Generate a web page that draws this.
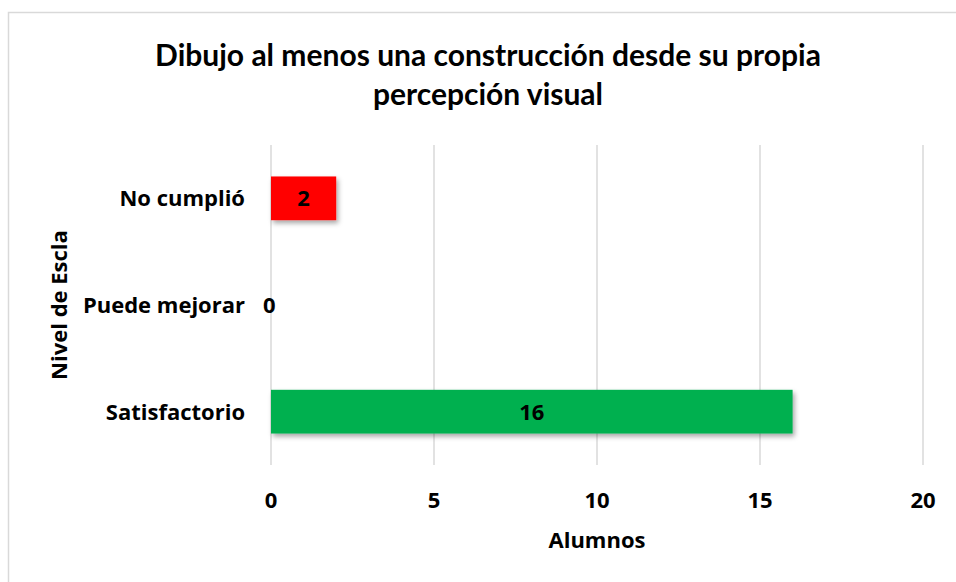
<!DOCTYPE html>
<html>
<head>
<meta charset="utf-8">
<script src="https://cdn.jsdelivr.net/npm/d3@7"></script>
<style>
  body { margin: 0; background: #fff; }
  svg { display: block; font-family: "Open Sans", sans-serif; }
</style>
</head>
<body>
<div id="chart"></div>
<script>
const categories = ["No cumplió", "Puede mejorar", "Satisfactorio"]
const values = [2, 0, 16]
const barColors = ["#ff0000", "#ffc000", "#00b050"]
const xTicks = [0, 5, 10, 15, 20]

const titleLines = ["Dibujo al menos una construcción desde su propia", "percepción visual"]

const width = 956
const height = 582
const margin = { top: 145, right: 33, bottom: 117, left: 271 }

const svg = d3
  .select("#chart")
  .append("svg")
  .attr("width", width)
  .attr("height", height)

// drop shadow like the office chart
const defs = svg.append("defs")
const shadow = defs
  .append("filter")
  .attr("id", "shadow")
  .attr("x", "-10%")
  .attr("y", "-20%")
  .attr("width", "130%")
  .attr("height", "160%")
shadow
  .append("feDropShadow")
  .attr("dx", 2)
  .attr("dy", 3)
  .attr("stdDeviation", 2.5)
  .attr("flood-color", "#000")
  .attr("flood-opacity", 0.35)

// chart border
svg
  .append("rect")
  .attr("x", 8.5)
  .attr("y", 12.5)
  .attr("width", 960)
  .attr("height", 600)
  .attr("fill", "none")
  .attr("stroke", "#d9d9d9")
  .attr("stroke-width", 1.5)

const x = d3
  .scaleLinear()
  .domain([0, 20])
  .range([margin.left, width - margin.right])

const y = d3
  .scaleBand()
  .domain(categories)
  .range([margin.top, height - margin.bottom])
  .paddingInner(0.59)
  .paddingOuter(0.295)

// gridlines
svg
  .append("g")
  .selectAll("line")
  .data(xTicks)
  .enter()
  .append("line")
  .attr("x1", (d) => x(d))
  .attr("x2", (d) => x(d))
  .attr("y1", margin.top)
  .attr("y2", height - margin.bottom)
  .attr("stroke", "#d9d9d9")
  .attr("stroke-width", 1.5)

// bars
svg
  .append("g")
  .selectAll("rect")
  .data(values)
  .enter()
  .append("rect")
  .attr("x", x(0))
  .attr("y", (d, i) => y(categories[i]))
  .attr("width", (d) => x(d) - x(0))
  .attr("height", y.bandwidth())
  .attr("fill", (d, i) => barColors[i])
  .attr("filter", "url(#shadow)")

// value labels
svg
  .append("g")
  .selectAll("text")
  .data(values)
  .enter()
  .append("text")
  .attr("x", (d) => (d > 0 ? (x(d) + x(0)) / 2 : x(0) - 8))
  .attr("y", (d, i) => y(categories[i]) + y.bandwidth() / 2)
  .attr("dy", "0.36em")
  .attr("text-anchor", (d) => (d > 0 ? "middle" : "start"))
  .attr("font-size", "22px")
  .attr("font-weight", "bold")
  .attr("fill", "#000")
  .text((d) => d)

// category labels
svg
  .append("g")
  .selectAll("text")
  .data(categories)
  .enter()
  .append("text")
  .attr("x", 245)
  .attr("y", (d) => y(d) + y.bandwidth() / 2)
  .attr("dy", "0.36em")
  .attr("text-anchor", "end")
  .attr("font-size", "22px")
  .attr("font-weight", "bold")
  .text((d) => d)

// x tick labels
svg
  .append("g")
  .selectAll("text")
  .data(xTicks)
  .enter()
  .append("text")
  .attr("x", (d) => x(d))
  .attr("y", 500)
  .attr("dy", "0.36em")
  .attr("text-anchor", "middle")
  .attr("font-size", "22px")
  .attr("font-weight", "bold")
  .text((d) => d)

// axis titles
svg
  .append("text")
  .attr("x", x(10))
  .attr("y", 540)
  .attr("dy", "0.36em")
  .attr("text-anchor", "middle")
  .attr("font-size", "22px")
  .attr("font-weight", "bold")
  .text("Alumnos")

svg
  .append("text")
  .attr("transform", `translate(59,${(margin.top + height - margin.bottom) / 2}) rotate(-90)`)
  .attr("dy", "0.36em")
  .attr("text-anchor", "middle")
  .attr("font-size", "22px")
  .attr("font-weight", "bold")
  .text("Nivel de Escla")

// title
svg
  .append("g")
  .selectAll("text")
  .data(titleLines)
  .enter()
  .append("text")
  .attr("x", 488)
  .attr("y", (d, i) => 55 + i * 39)
  .attr("dy", "0.36em")
  .attr("text-anchor", "middle")
  .attr("font-family", "Lato, 'Open Sans', sans-serif")
  .attr("font-size", "30px")
  .attr("font-weight", "bold")
  .text((d) => d)
</script>
</body>
</html>
